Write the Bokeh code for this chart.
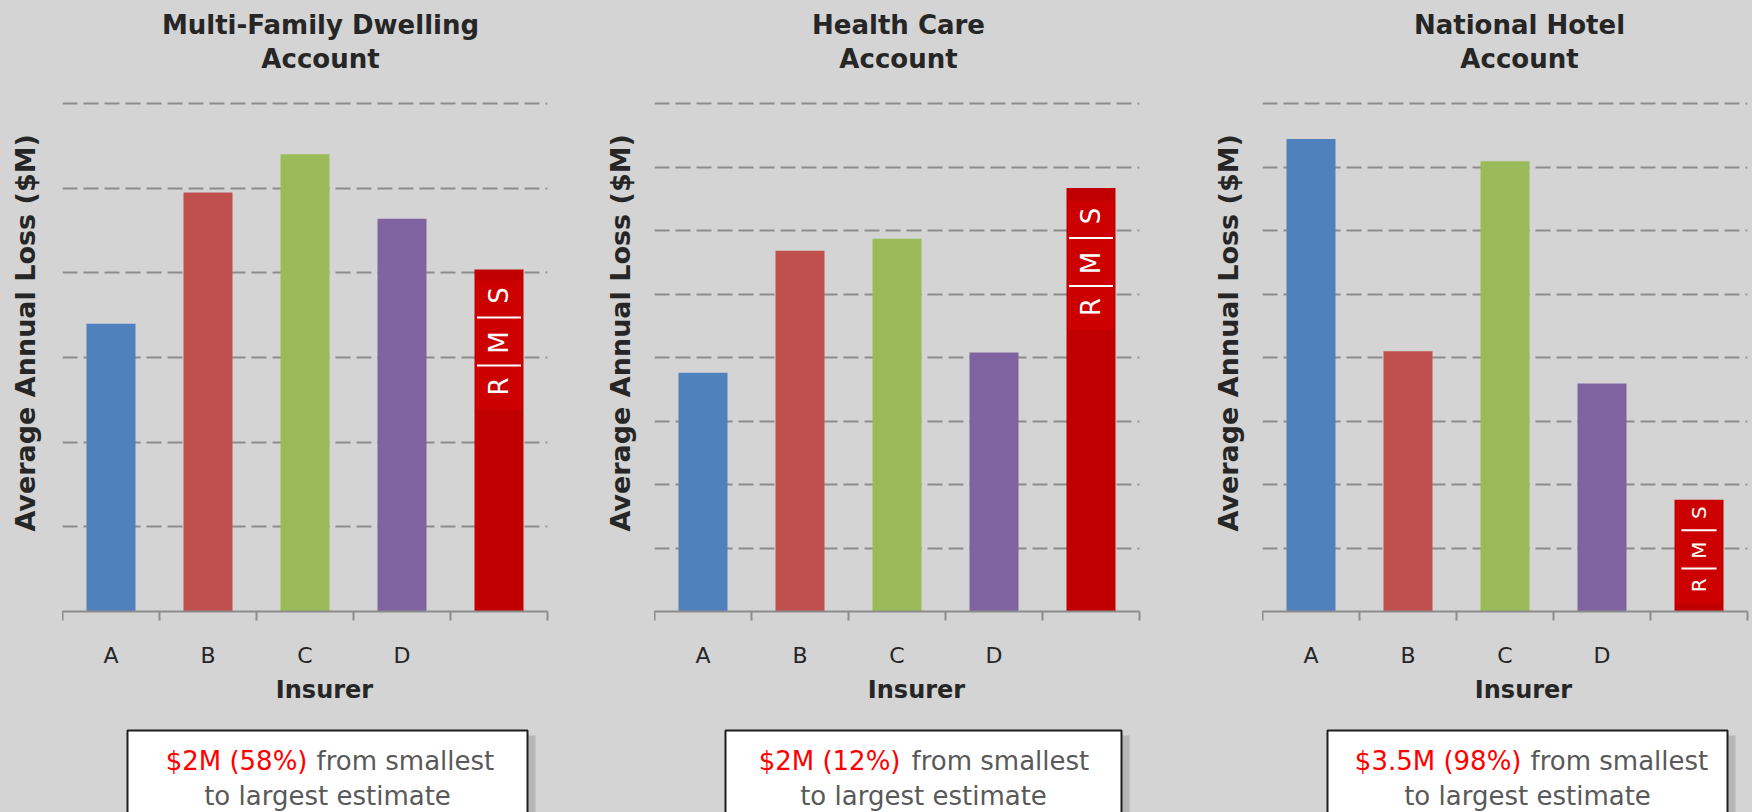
from math import pi
from bokeh.plotting import figure
from bokeh.layouts import row, column
from bokeh.models import (Range1d, LinearAxis, FixedTicker, Grid)
from bokeh.core.properties import value
from bokeh.embed import file_html
from bokeh.resources import INLINE

# ---------------- data ----------------
insurers = ["A", "B", "C", "D", "RMS"]
tick_labels = ["A", "B", "C", "D", ""]
panel_titles = [["Multi-Family Dwelling", "Account"],
                ["Health Care", "Account"],
                ["National Hotel", "Account"]]
mfd_loss = [3.40, 4.95, 5.40, 4.64, 4.04]
hc_loss = [3.76, 5.68, 5.87, 4.08, 6.67]
nh_loss = [7.44, 4.10, 7.09, 3.59, 1.76]
y_max = [6, 8, 8]
diff_amount = ["$2M (58%)", "$2M (12%)", "$3.5M (98%)"]
diff_text1 = "from smallest"
diff_text2 = "to largest estimate"
y_label = "Average Annual Loss ($M)"
x_label = "Insurer"
bar_colors = ["#4F81BD", "#C0504D", "#9BBB59", "#8064A2", "#C00000"]

# ---------------- style / layout ----------------
FONT = "DejaVu Sans"
BG = "#D4D4D4"
GRID_C = "#8C8C8C"
TXT = "#262626"
W, H = 1752, 812
ROW1_H = 93                      # header row (titles)
ROW3_Y = 670                     # start of bottom row (x label + note box)
ROW2_H = ROW3_Y - ROW1_H
ROW3_H = H - ROW3_Y
FRAME_W, FRAME_H = 485, 508      # plot frame (0 .. y_max)
EXTRA = 4                        # pixels of frame above the top gridline
CH_TOP = 103 - ROW1_H - EXTRA
fig_w = [600, 600, 552]
left_b = [62, 54, 62]
title_x = [320, 298, 319]
ylab_x = [25, 20, 28]
ylab_y = 356
insurer_x = [324, 316, 323]
box_lr = [(127, 527), (125, 521), (127, 527)]
red_right = [307, 300, 321]
grey_left = [316, 311, 330]
line2_x = [327, 323, 327]
logo = [(0, 1.0, 26), (2, 1.0, 26), (-8, 0.8, 20)]

n = len(insurers)
xpos = [k + 0.5 for k in range(n)]          # category centres on the linear x scale
edges = list(range(n + 1))                  # category boundaries (tick marks)


def drop_grids(p):
    p.center = [r for r in p.center if not isinstance(r, Grid)]


def canvas_fig(w, h):
    f = figure(width=w, height=h, x_range=Range1d(0, w), y_range=Range1d(h, 0),
               output_backend="svg", toolbar_location=None, title=None,
               x_axis_location=None, y_axis_location=None, min_border=0,
               background_fill_color=BG, border_fill_color=BG, outline_line_color=None)
    drop_grids(f)
    return f


def put_text(f, x, y, s, size, color=TXT, bold=False, align="center", angle=0.0):
    f.text(x=[x], y=[y], text=[s], angle=angle, text_align=align, text_baseline="middle",
           text_font=value(FONT), text_font_size=f"{size}px",
           text_font_style="bold" if bold else "normal", text_color=color)


def make_header(i):
    f = canvas_fig(fig_w[i], ROW1_H)
    put_text(f, title_x[i], 24, panel_titles[i][0], 26, bold=True)
    put_text(f, title_x[i], 58, panel_titles[i][1], 26, bold=True)
    return f


def make_ylabel(i):
    f = canvas_fig(left_b[i], ROW2_H)
    put_text(f, ylab_x[i], ylab_y - ROW1_H, y_label, 27, bold=True, angle=pi / 2)
    return f


def make_chart(i, values):
    ymax = y_max[i]
    cw = fig_w[i] - left_b[i]
    p = figure(width=cw, height=ROW2_H,
               x_range=Range1d(0, n), y_range=Range1d(0, ymax * (FRAME_H + EXTRA) / FRAME_H),
               output_backend="svg", toolbar_location=None, title=None,
               x_axis_location=None, y_axis_location=None,
               min_border_left=0, min_border_right=cw - FRAME_W,
               min_border_top=CH_TOP, min_border_bottom=ROW2_H - CH_TOP - FRAME_H - EXTRA,
               background_fill_color=BG, border_fill_color=BG, outline_line_color=None)
    drop_grids(p)
    p.add_layout(Grid(dimension=1, ticker=FixedTicker(ticks=list(range(1, ymax + 1))),
                      grid_line_color=GRID_C, grid_line_width=2, grid_line_dash="15 6"))

    xaxis = LinearAxis(ticker=FixedTicker(ticks=xpos, minor_ticks=edges),
                       axis_line_color=GRID_C, axis_line_width=2,
                       major_tick_line_color=None, major_tick_in=0, major_tick_out=0,
                       minor_tick_line_color=GRID_C, minor_tick_line_width=2,
                       minor_tick_in=0, minor_tick_out=9,
                       major_label_overrides={x: t for x, t in zip(xpos, tick_labels)},
                       major_label_standoff=22,
                       major_label_text_font=FONT,
                       major_label_text_font_size="22px",
                       major_label_text_color=TXT)
    p.add_layout(xaxis, "below")

    p.vbar(x=xpos, top=values, width=0.505, fill_color=bar_colors, line_color=None)

    # RMS logo on the RMS bar
    v = values[-1]
    xr = xpos[-1]
    dpp = ymax / FRAME_H
    pad, sc, fs = logo[i]
    p.vbar(x=[xr], top=[v - (pad + sc * 11) * dpp],
           bottom=[max(0, v - (pad + sc * 140) * dpp)], width=0.474,
           fill_color="#CC0000", line_color=None)
    p.text(x=[xr] * 3, y=[v] * 3, text=["S", "M", "R"],
           y_offset=[pad + sc * o for o in (26, 73, 117)], angle=pi / 2,
           text_align="center", text_baseline="middle", text_color="white",
           text_font=value(FONT), text_font_size=f"{fs}px")
    p.scatter(x=[xr] * 2, y=[v - (pad + sc * o) * dpp for o in (48, 96)],
              marker="dash", size=44 * sc, line_color="white", line_width=2)
    return p


def make_bottom(i):
    f = canvas_fig(fig_w[i], ROW3_H)
    put_text(f, insurer_x[i], 19, x_label, 24, bold=True)
    bl, br = box_lr[i]
    top = 60
    f.quad(left=[bl + 3], right=[br + 8], top=[top + 5], bottom=[ROW3_H + 10],
           fill_color="#9C9C9C", fill_alpha=0.55, line_color=None)
    f.quad(left=[bl], right=[br], top=[top], bottom=[ROW3_H + 10],
           fill_color="white", line_color="#1E1E1E", line_width=2)
    put_text(f, red_right[i], top + 30, diff_amount[i], 26, color="#FF0000", align="right")
    put_text(f, grey_left[i], top + 30, diff_text1, 26, color="#595959", align="left")
    put_text(f, line2_x[i], top + 65, diff_text2, 26, color="#595959")
    return f


losses = [mfd_loss, hc_loss, nh_loss]
headers = [make_header(i) for i in range(3)]
middle = []
for i in range(3):
    middle += [make_ylabel(i), make_chart(i, losses[i])]
bottoms = [make_bottom(i) for i in range(3)]
layout = column(row(*headers), row(*middle), row(*bottoms))
html = file_html(layout, INLINE, title="Insurer loss estimates")
html = html.replace("<head>", "<head>\n<style>html,body{margin:0;padding:0;background:#D4D4D4;}</style>", 1)
open("out.html", "w").write(html)
